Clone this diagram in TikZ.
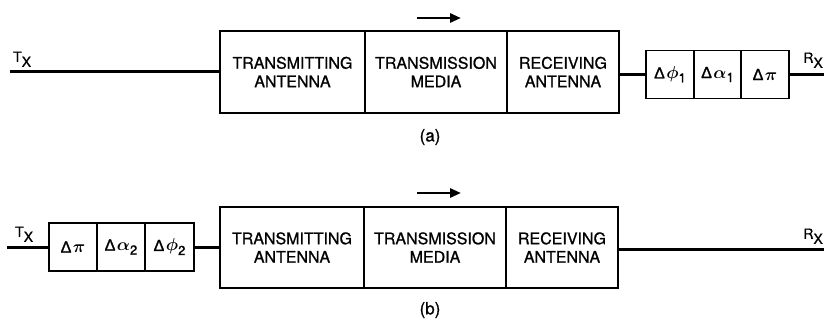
\documentclass[tikz,border=0pt]{standalone}
\usepackage{fontspec}
\setmainfont{TeX Gyre Heros}[FakeBold=0.9]
\newfontfamily\grkfont{Liberation Sans}[FakeBold=1.6]
\usetikzlibrary{arrows.meta}
% phase / amplitude / polarity correction cell text: Delta, symbol, subscript
\newcommand{\corr}[2]{{\grkfont Δ}\kern1.5pt{\boldmath$#1$}\raisebox{-4pt}{\fontsize{13}{13}\selectfont #2}}
\newcommand{\portlbl}[1]{#1\raisebox{-5pt}{X}}
\begin{document}
\begin{tikzpicture}[x=1pt,y=-1pt,
  bigbox/.style={draw, line width=1.6pt, rectangle, inner sep=0pt, align=center,
    minimum height=82pt, font=\fontsize{16}{18.5}\selectfont},
  cellbox/.style={draw, line width=1.6pt, rectangle, inner sep=0pt,
    minimum height=48pt, minimum width=48pt, font=\fontsize{16}{18}\selectfont},
  wire/.style={line width=3pt},
  flow/.style={line width=2.8pt, -{Triangle[length=11pt,width=9pt]}},
  port/.style={font=\fontsize{14}{16}\selectfont, inner sep=0pt},
  caption/.style={font=\fontsize{17}{20}\selectfont, inner sep=0pt}]
\useasboundingbox (0,0) rectangle (826,320);

% ---------- (a): correction after the receiving antenna ----------
\node[bigbox, minimum width=145pt] (ta) at (292.5,72) {TRANSMITTING\\ANTENNA};
\node[bigbox, minimum width=142pt] (ma) at (436,72) {TRANSMISSION\\MEDIA};
\node[bigbox, minimum width=112pt] (ra) at (563,72) {RECEIVING\\ANTENNA};
\node[cellbox] (pa) at (670,74.5) {\corr{\phi}{1}};
\node[cellbox, minimum width=47pt] (aa) at (717.5,74.5) {\corr{\alpha}{1}};
\node[cellbox] (na) at (765,74.5) {{\grkfont Δ}\kern1.5pt{\boldmath$\pi$}};
\coordinate (txa) at (10,72);
\coordinate (rxa) at (824,74.5);
\draw[wire] (txa) -- (ta.west);
\draw[wire] (ra.east |- pa.west) -- (pa.west);
\draw[wire] (na.east) -- (rxa);
\node[port, anchor=south west] (tla) at (13,67) {\portlbl{T}};
\node[port, anchor=south east] (rla) at (823,68) {\portlbl{R}};
\coordinate (fa0) at (417,18);
\coordinate (fa1) at (461,18);
\draw[flow] (fa0) -- (fa1);
\node[caption] (capa) at (430,137) {(a)};

% ---------- (b): correction before the transmitting antenna ----------
\node[cellbox] (nb) at (73,247) {{\grkfont Δ}\kern1.5pt{\boldmath$\pi$}};
\node[cellbox] (ab) at (121,247) {\corr{\alpha}{2}};
\node[cellbox, minimum width=49pt] (pb) at (169.5,247) {\corr{\phi}{2}};
\node[bigbox, minimum width=144pt, minimum height=81pt] (tb) at (292,247.5) {TRANSMITTING\\ANTENNA};
\node[bigbox, minimum width=142pt, minimum height=81pt] (mb) at (435,247.5) {TRANSMISSION\\MEDIA};
\node[bigbox, minimum width=112pt, minimum height=81pt] (rb) at (562,247.5) {RECEIVING\\ANTENNA};
\coordinate (txb) at (7,247);
\coordinate (rxb) at (824,249);
\draw[wire] (txb) -- (nb.west);
\draw[wire] (pb.east) -- (tb.west |- pb.east);
\draw[wire] (rb.east |- rxb) -- (rxb);
\node[port, anchor=south west] (tlb) at (15,242) {\portlbl{T}};
\node[port, anchor=south east] (rlb) at (823,244) {\portlbl{R}};
\coordinate (fb0) at (417,193);
\coordinate (fb1) at (461,193);
\draw[flow] (fb0) -- (fb1);
\node[caption] (capb) at (430,310) {(b)};
\end{tikzpicture}
\end{document}
